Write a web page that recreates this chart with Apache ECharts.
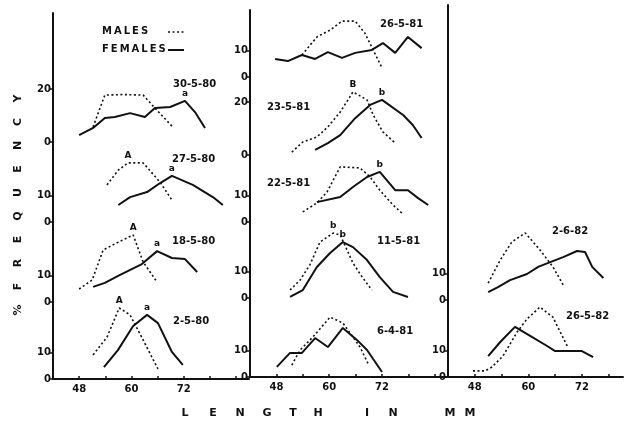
<!DOCTYPE html>
<html><head><meta charset="utf-8">
<script src="https://cdn.jsdelivr.net/npm/echarts@6/dist/echarts.min.js"></script>
<style>html,body{margin:0;padding:0;background:#fff}#c{width:624px;height:422px}</style>
</head><body><div id="c"></div>
<script>
// ---- data (length in mm, % frequency) ----
const lengthTickLabels = [48, 60, 72];
const legendNames = ['MALES', 'FEMALES'];

// Column 1 (1980)
const m_2_5_80_x = [51.2, 54.4, 57.2, 59.7, 62.7, 66.1];
const m_2_5_80_y = [9.1, 15.8, 26.8, 24.2, 14.7, 3.8];
const f_2_5_80_x = [53.7, 56.9, 60.4, 63.6, 66.1, 69.3, 71.8];
const f_2_5_80_y = [4.5, 10.9, 20.0, 24.2, 21.1, 10.2, 5.3];

const m_18_5_80_x = [48.0, 51.0, 53.5, 57.0, 60.4, 62.7, 65.9];
const m_18_5_80_y = [4.9, 8.3, 19.6, 22.6, 25.3, 15.1, 7.5];
const f_18_5_80_x = [51.2, 53.9, 57.4, 62.4, 65.9, 69.3, 72.3, 75.1];
const f_18_5_80_y = [5.7, 7.2, 10.2, 14.3, 19.2, 16.6, 16.2, 11.3];

const m_27_5_80_x = [54.4, 57.0, 59.2, 62.7, 66.6, 69.3];
const m_27_5_80_y = [14.0, 19.6, 22.3, 22.3, 15.0, 8.3];
const f_27_5_80_x = [57.0, 59.7, 63.6, 66.6, 69.3, 74.1, 78.7, 81.0];
const f_27_5_80_y = [6.4, 9.4, 11.3, 14.7, 17.4, 14.0, 9.4, 6.4];

const m_30_5_80_x = [51.2, 53.9, 58.0, 62.7, 65.4, 69.3];
const m_30_5_80_y = [5.7, 17.7, 17.9, 17.7, 12.8, 6.0];
const f_30_5_80_x = [48.0, 51.2, 53.9, 56.2, 59.7, 63.1, 65.4, 68.9, 72.3, 74.6, 76.9];
const f_30_5_80_y = [2.6, 5.3, 9.1, 9.4, 10.9, 9.4, 12.8, 13.2, 15.5, 11.3, 5.3];

// Column 2 (1981)
const m_6_4_81_x = [51.5, 53.4, 56.3, 60.2, 63.1, 65.4, 67.0, 69.0];
const m_6_4_81_y = [4.5, 10.2, 15.1, 22.6, 20.4, 15.1, 11.3, 4.5];
const f_6_4_81_x = [48.1, 51.1, 53.8, 56.8, 59.7, 63.1, 66.3, 68.6, 72.0];
const f_6_4_81_y = [3.8, 9.1, 9.1, 14.7, 11.3, 18.5, 14.0, 10.2, 1.9];

const m_11_5_81_x = [51.1, 53.4, 55.6, 57.9, 60.9, 62.5, 65.4, 67.5, 69.7];
const m_11_5_81_y = [3.0, 6.8, 12.5, 21.1, 24.5, 23.8, 13.2, 7.9, 3.0];
const f_11_5_81_x = [51.1, 54.0, 57.2, 60.2, 63.1, 65.4, 68.6, 71.5, 74.5, 77.9];
const f_11_5_81_y = [0.4, 3.0, 11.7, 17.0, 21.1, 19.2, 14.3, 7.9, 2.3, 0.4];

const m_22_5_81_x = [54.0, 57.2, 59.5, 62.5, 67.0, 69.3, 71.5, 74.5, 76.5];
const m_22_5_81_y = [3.8, 7.2, 11.3, 20.8, 20.4, 17.0, 12.0, 6.4, 3.4];
const f_22_5_81_x = [57.2, 62.5, 65.4, 68.6, 71.5, 75.0, 77.9, 80.2, 82.5];
const f_22_5_81_y = [7.5, 9.4, 13.2, 17.0, 18.9, 12.0, 12.0, 9.0, 6.4];

const m_23_5_81_x = [51.5, 54.0, 57.2, 59.7, 62.5, 65.4, 68.6, 70.0, 72.2, 75.0];
const m_23_5_81_y = [1.1, 4.9, 6.8, 10.6, 16.2, 23.8, 20.8, 15.1, 8.7, 4.5];
const f_23_5_81_x = [56.8, 59.7, 62.5, 65.9, 69.3, 72.0, 76.8, 79.0, 81.0];
const f_23_5_81_y = [1.9, 4.5, 7.5, 13.9, 18.9, 20.8, 15.1, 11.3, 6.4];

const m_26_5_81_x = [53.8, 57.2, 60.2, 62.9, 65.9, 68.1, 70.0, 72.0];
const m_26_5_81_y = [8.3, 15.1, 17.7, 21.1, 21.1, 16.6, 10.2, 3.4];
const f_26_5_81_x = [47.7, 50.6, 53.8, 56.8, 59.7, 62.9, 65.9, 69.7, 72.2, 75.0, 77.9, 81.0];
const f_26_5_81_y = [6.8, 6.0, 8.3, 6.8, 9.4, 7.2, 9.1, 10.2, 12.8, 9.1, 15.1, 10.9];

// Column 3 (1982)
const m_26_5_82_x = [47.6, 50.3, 51.9, 54.3, 57.5, 59.7, 62.6, 65.5, 68.7];
const m_26_5_82_y = [2.3, 2.3, 3.8, 7.9, 17.0, 21.9, 26.4, 22.6, 11.7];
const f_26_5_82_x = [51.0, 53.7, 57.0, 60.4, 64.2, 66.0, 72.0, 74.5];
const f_26_5_82_y = [7.9, 13.2, 18.9, 15.5, 11.7, 9.8, 9.8, 7.5];

const m_2_6_82_x = [51.0, 53.7, 56.3, 59.3, 62.6, 65.5, 67.8];
const m_2_6_82_y = [6.4, 15.1, 21.9, 25.3, 18.9, 12.5, 5.7];
const f_2_6_82_x = [51.0, 53.2, 55.9, 59.7, 62.2, 64.9, 67.8, 70.9, 72.7, 74.3, 76.8];
const f_2_6_82_y = [3.0, 4.9, 7.5, 9.8, 12.5, 14.3, 16.2, 18.5, 18.1, 12.5, 8.3];

// ---- layout ----
const COLS = [
  {left: 53, width: 196, min: 42, max: 87},
  {left: 250, width: 198, min: 42, max: 87},
  {left: 448, width: 175, min: 42, max: 81.2}
];
const PX_PER_UNIT = 2.65;

const panels = [
  {col:0, base:379, top:302, date:'2-5-80',  dx:173, dy:322, yl:[0,10], bottom:true,
   mx:m_2_5_80_x, my:m_2_5_80_y, fx:f_2_5_80_x, fy:f_2_5_80_y, ml:'A', fl:'a'},
  {col:0, base:302, top:222, date:'18-5-80', dx:172, dy:242, yl:[0,10],
   mx:m_18_5_80_x, my:m_18_5_80_y, fx:f_18_5_80_x, fy:f_18_5_80_y, ml:'A', fl:'a'},
  {col:0, base:222, top:142, date:'27-5-80', dx:172, dy:160, yl:[0,10],
   mx:m_27_5_80_x, my:m_27_5_80_y, fx:f_27_5_80_x, fy:f_27_5_80_y, ml:'A', fl:'a'},
  {col:0, base:142, top:13, date:'30-5-80', dx:173, dy:85, yl:[0,20],
   mx:m_30_5_80_x, my:m_30_5_80_y, fx:f_30_5_80_x, fy:f_30_5_80_y, ml:'', fl:'a'},
  {col:1, base:377, top:298, date:'6-4-81', dx:377, dy:332, yl:[0,10], bottom:true,
   mx:m_6_4_81_x, my:m_6_4_81_y, fx:f_6_4_81_x, fy:f_6_4_81_y, ml:'', fl:''},
  {col:1, base:298, top:222, date:'11-5-81', dx:377, dy:242, yl:[0,10],
   mx:m_11_5_81_x, my:m_11_5_81_y, fx:f_11_5_81_x, fy:f_11_5_81_y, ml:'b', fl:'b'},
  {col:1, base:222, top:155, date:'22-5-81', dx:267, dy:184, yl:[0,10],
   mx:m_22_5_81_x, my:m_22_5_81_y, fx:f_22_5_81_x, fy:f_22_5_81_y, ml:'', fl:'b'},
  {col:1, base:155, top:77, date:'23-5-81', dx:267, dy:108, yl:[0,20],
   mx:m_23_5_81_x, my:m_23_5_81_y, fx:f_23_5_81_x, fy:f_23_5_81_y, ml:'B', fl:'b'},
  {col:1, base:77, top:10, date:'26-5-81', dx:380, dy:25, yl:[0,10],
   mx:m_26_5_81_x, my:m_26_5_81_y, fx:f_26_5_81_x, fy:f_26_5_81_y, ml:'', fl:''},
  {col:2, base:377, top:300, date:'26-5-82', dx:566, dy:317, yl:[0,10], bottom:true,
   mx:m_26_5_82_x, my:m_26_5_82_y, fx:f_26_5_82_x, fy:f_26_5_82_y, ml:'', fl:''},
  {col:2, base:300, top:5, date:'2-6-82', dx:552, dy:232, yl:[0,10],
   mx:m_2_6_82_x, my:m_2_6_82_y, fx:f_2_6_82_x, fy:f_2_6_82_y, ml:'', fl:''}
];

const yTitleLetters = ['%','F','R','E','Q','U','E','N','C','Y'];
const xTitleLetters = ['L','E','N','G','T','H','I','N','M','M'];
const xTitlePos = [185,213,240,267,293,318,367,393,450,470];

const FONT = 'DejaVu Sans';
const INK = '#111';
const MALE_DASH = [2, 2.5];

function buildData(xs, ys, letter) {
  let peak = 0;
  ys.forEach((v, i) => { if (v > ys[peak]) peak = i; });
  return xs.map((x, i) => {
    if (letter && i === peak) {
      return {value: [x, ys[i]], symbol: 'circle', symbolSize: 0.01,
        label: {show: true, formatter: letter, position: 'top', distance: 3,
          color: INK, fontFamily: FONT, fontWeight: 'bold', fontSize: 9}};
    }
    return [x, ys[i]];
  });
}

const grid = [], xAxis = [], yAxis = [], series = [];
panels.forEach((p, i) => {
  const c = COLS[p.col];
  grid.push({left: c.left, width: c.width, top: p.top, height: p.base - p.top});
  xAxis.push({
    type: 'value', gridIndex: i, min: c.min, max: c.max, show: !!p.bottom,
    axisLine: {show: true, onZero: false, lineStyle: {color: INK, width: 2}},
    axisTick: {show: true, inside: true, length: 3, customValues: [42,48,54,60,66,72,78,84].filter(v => v <= c.max), lineStyle: {color: INK, width: 1.5}},
    axisLabel: {customValues: lengthTickLabels, margin: 5, color: INK, fontFamily: FONT, fontWeight: 'bold', fontSize: 10},
    splitLine: {show: false}
  });
  yAxis.push({
    type: 'value', gridIndex: i, min: 0, max: (p.base - p.top) / PX_PER_UNIT,
    axisLine: {show: true, onZero: false, lineStyle: {color: INK, width: 2}},
    axisTick: {show: true, length: 4, customValues: p.yl, lineStyle: {color: INK, width: 1.5}},
    axisLabel: {customValues: p.yl, margin: 2, color: INK, fontFamily: FONT, fontWeight: 'bold', fontSize: 10},
    splitLine: {show: false}
  });
  series.push({
    name: legendNames[0], type: 'line', xAxisIndex: i, yAxisIndex: i, symbol: 'none', clip: false,
    lineStyle: {color: INK, width: 1.6, type: MALE_DASH}, itemStyle: {color: INK},
    data: buildData(p.mx, p.my, p.ml), animation: false
  });
  series.push({
    name: legendNames[1], type: 'line', xAxisIndex: i, yAxisIndex: i, symbol: 'none', clip: false,
    lineStyle: {color: INK, width: 2}, itemStyle: {color: INK},
    data: buildData(p.fx, p.fy, p.fl), animation: false
  });
});

const graphic = [];
// legend (text left, line sample right, as in the original)
legendNames.forEach((n, i) => {
  const y = 31 + i * 18;
  graphic.push({type: 'text', x: 102, y: y,
    style: {text: n.split('').join('\u2009'), fill: INK, font: 'bold 10px "' + FONT + '"', verticalAlign: 'middle'}});
  graphic.push({type: 'line', shape: {x1: 168, y1: y + 1, x2: 184, y2: y + 1},
    style: i === 0 ? {stroke: INK, lineWidth: 1.6, lineDash: MALE_DASH} : {stroke: INK, lineWidth: 2}});
});
panels.forEach(p => graphic.push({type: 'text', left: p.dx, top: p.dy - 6,
  style: {text: p.date, fill: INK, font: 'bold 10px "' + FONT + '"'}}));
yTitleLetters.forEach((ch, i) => graphic.push({type: 'text', x: 18, y: 310 - i * 23.5, rotation: Math.PI / 2,
  style: {text: ch, fill: INK, font: 'bold 11px "' + FONT + '"', align: 'center', verticalAlign: 'middle'}}));
xTitleLetters.forEach((ch, i) => graphic.push({type: 'text', x: xTitlePos[i], y: 413,
  style: {text: ch, fill: INK, font: 'bold 11px "' + FONT + '"', align: 'center', verticalAlign: 'middle'}}));

const chart = echarts.init(document.getElementById('c'), null, {renderer: 'canvas'});
chart.setOption({
  backgroundColor: '#fff',
  animation: false,
  grid, xAxis, yAxis, series, graphic
});
</script></body></html>
